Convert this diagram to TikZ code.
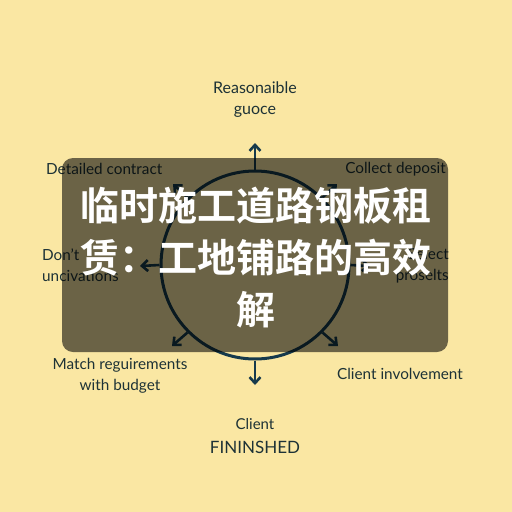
\documentclass[tikz,border=0pt]{standalone}
\usepackage{fontspec}
\setmainfont{Lato}
\newfontfamily\cjk{Noto Sans CJK SC Bold}
\usepackage{xcolor}
\usetikzlibrary{arrows.meta,positioning}
\definecolor{paper}{HTML}{FAE7A3}
\definecolor{ink}{HTML}{1D3236}
\definecolor{ring}{HTML}{163A4C}

\begin{document}
\begin{tikzpicture}[x=1pt, y=-1pt,
    every node/.style={font=\fontsize{15.3}{21}\selectfont, text=ink, inner sep=0pt},
    arr/.style={-{Straight Barb[length=6pt,width=11pt]}, ring, line width=2.6pt},
    lbl/.style={align=center}]
    \fill[paper] (0,0) rectangle (512,512);
    \useasboundingbox (0,0) rectangle (512,512);
    % the ring and its spokes
    \node[circle, draw=ring, line width=3pt, minimum size=188pt] (hub) at (255,265) {};
    \coordinate (tN) at (255,143);
    \coordinate (tS) at (255,385);
    \coordinate (tW) at (140,266);
    \coordinate (tE) at (370,266);
    \coordinate (tNW) at (173,184);
    \coordinate (tNE) at (337,184);
    \coordinate (tSW) at (172,346);
    \coordinate (tSE) at (338,346);
    \foreach \a/\t in {north/tN, south/tS, west/tW, east/tE,
                       north west/tNW, north east/tNE, south west/tSW, south east/tSE}
      \draw[arr] (hub.\a) -- (\t);
    % labels round the ring
    \node[lbl, font=\fontsize{16}{21}\selectfont] (reason) at (255,100) {Reasonaible\\guoce};
    \node[anchor=west] (detail) at (46,169) {Detailed contract};
    \node[anchor=east] (deposit) at (446,169) {Collect deposit};
    \node[align=left, anchor=west] (dont) at (42,265) {Don't\\uncivations};
    \node[align=right, anchor=east] (select) at (449,266) {Select\\proselts};
    \node[lbl] (match) at (120,376) {Match reguirements\\with budget};
    \node (involve) at (400,374) {Client involvement};
    \node[lbl, font=\fontsize{15}{24}\selectfont] (finish) at (255,436)
      {Client\\{\fontsize{17}{24}\selectfont FININSHED}};
    % title panel
    \fill[black, opacity=0.57, rounded corners=11pt] (62,158) rectangle (448,352);
    \node[align=center, text=white, font=\cjk\fontsize{39}{52}\selectfont] (title) at (256,258)
      {临时施工道路钢板租\\赁：工地铺路的高效\\解};
\end{tikzpicture}
\end{document}
